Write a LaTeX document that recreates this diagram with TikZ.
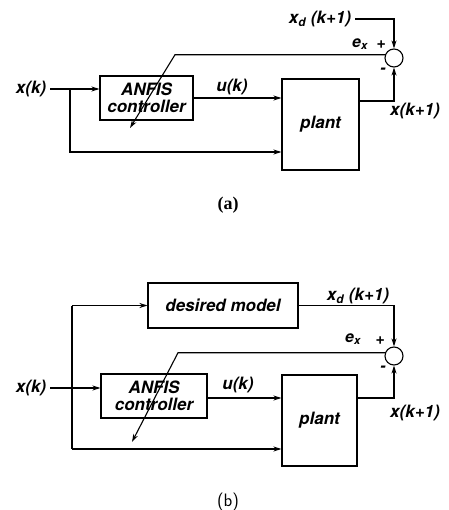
\documentclass[tikz,border=0pt]{standalone}
\usepackage{fontspec}
\newfontfamily\lblfont{TeX Gyre Heros}
\newfontfamily\capfont{Liberation Serif}
\usetikzlibrary{arrows.meta}
\tikzset{
  lbl/.style={font=\lblfont\fontsize{17}{17}\selectfont\bfseries\itshape, inner sep=0pt},
  small/.style={font=\lblfont\fontsize{16}{16}\selectfont\bfseries\itshape, inner sep=0pt},
  blk/.style={draw, lbl, align=center},
  sum/.style={draw, circle, minimum size=18pt, inner sep=0pt},
}
\begin{document}
\begin{tikzpicture}[x=1pt, y=-1pt, line width=1.1pt, >={Stealth[length=8pt,width=5pt]}]
    \useasboundingbox (0,0) rectangle (448,510);

    % (a)
    \node[lbl, outer sep=4pt] (xa) at (31,89) {x(k)};
    \node[blk, minimum width=93pt, minimum height=44pt] (anfisA) at (146.5,98) {ANFIS\\controller};
    \node[blk, minimum width=77pt, minimum height=91pt] (plantA) at (320.5,124.5) {plant};
    \node[sum] (sumA) at (394,58) {};
    \node[lbl, outer sep=4pt] (xdA) at (320,19) {x\textsubscript{d} (k+1)};
    \node[small] (exA) at (360,44) {e\textsubscript{x}};
    \node[small] (plusA) at (381,45) {+};
    \node[small] (minusA) at (383,71) {-};
    \node[lbl] (uA) at (232,87) {u(k)};
    \node[lbl] (xnA) at (415,111) {x(k+1)};

    \coordinate (brA) at (70,89);
    \coordinate (lowA) at (70,152);
    \coordinate (outA) at (394,101);
    \coordinate (eaA) at (175,55);
    \coordinate (tipA) at (130,128);

    \draw[->] (xa.east) -- (anfisA.west |- xa.east);
    \draw[->] (brA) -- (lowA) -- (plantA.west |- lowA);
    \draw[->] (anfisA.east) -- (plantA.west |- anfisA.east);
    \draw[->] (plantA.east |- outA) -- (outA) -- (sumA.south);
    \draw[->] (xdA.east) -| (sumA.north);
    \draw[->] (sumA.160) -- (sumA.160 -| eaA) -- (tipA);

    \node[font=\capfont\fontsize{18}{20}\selectfont\bfseries] (capA) at (228,205) {(a)};

    % (b)
    \node[blk, minimum width=150pt, minimum height=45pt] (dm) at (223,305.5) {desired model};
    \node[lbl, outer sep=4pt] (xb) at (31,388) {x(k)};
    \node[blk, minimum width=106pt, minimum height=44pt] (anfisB) at (154,396) {ANFIS\\controller};
    \node[blk, minimum width=75pt, minimum height=91pt] (plantB) at (319.5,420.5) {plant};
    \node[sum] (sumB) at (394,356) {};
    \node[lbl] (xdB) at (358,296) {x\textsubscript{d} (k+1)};
    \node[small] (exB) at (353,339) {e\textsubscript{x}};
    \node[small] (plusB) at (380,341) {+};
    \node[small] (minusB) at (383,369) {-};
    \node[lbl] (uB) at (238,385) {u(k)};
    \node[lbl] (xnB) at (415,413) {x(k+1)};

    \coordinate (topB) at (72,305.5);
    \coordinate (lowB) at (72,449);
    \coordinate (outB) at (394,398);
    \coordinate (eaB) at (178,353);
    \coordinate (tipB) at (132,442);

    \draw[->] (topB) -- (dm.west);
    \draw (topB) -- (lowB);
    \draw[->] (lowB) -- (plantB.west |- lowB);
    \draw[->] (xb.east) -- (anfisB.west |- xb.east);
    \draw[->] (anfisB.east |- outB) -- (plantB.west |- outB);
    \draw[->] (plantB.east |- outB) -- (outB) -- (sumB.south);
    \draw[->] (dm.east) -| (sumB.north);
    \draw[->] (sumB.160) -- (sumB.160 -| eaB) -- (tipB);

    \node[font=\sffamily\fontsize{18}{20}\selectfont] (capB) at (228,502) {(b)};
\end{tikzpicture}
\end{document}
